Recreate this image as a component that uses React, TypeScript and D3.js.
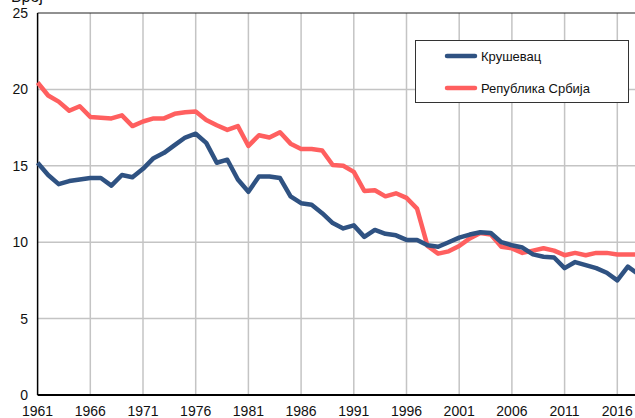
import React, { useEffect, useRef } from 'react';
import * as d3 from 'd3';

// години 1961–2018
const years: number[] = d3.range(1961, 2019);
const xTicks = [1961, 1966, 1971, 1976, 1981, 1986, 1991, 1996, 2001, 2006, 2011, 2016];
const yTicks = [0, 5, 10, 15, 20, 25];

const krusevac = [
  15.2, 14.4, 13.8, 14.0, 14.1, 14.2, 14.2, 13.7, 14.4, 14.25,
  14.8, 15.5, 15.85, 16.35, 16.85, 17.1, 16.5, 15.2, 15.4, 14.1,
  13.3, 14.3, 14.3, 14.2, 13.0, 12.55, 12.45, 11.9, 11.25, 10.9,
  11.1, 10.35, 10.8, 10.55, 10.45, 10.15, 10.15, 9.8, 9.7, 10.0,
  10.3, 10.5, 10.65, 10.6, 10.0, 9.8, 9.65, 9.2, 9.05, 9.0,
  8.3, 8.7, 8.5, 8.3, 8.0, 7.5, 8.4, 7.9,
];

const srbija = [
  20.45, 19.6, 19.2, 18.6, 18.9, 18.2, 18.15, 18.1, 18.3, 17.6,
  17.9, 18.1, 18.1, 18.4, 18.5, 18.55, 18.0, 17.65, 17.35, 17.6,
  16.3, 17.0, 16.85, 17.2, 16.45, 16.1, 16.1, 16.0, 15.05, 15.0,
  14.6, 13.35, 13.4, 13.0, 13.2, 12.9, 12.2, 9.75, 9.25, 9.4,
  9.75, 10.25, 10.6, 10.5, 9.7, 9.6, 9.3, 9.45, 9.6, 9.45,
  9.15, 9.3, 9.15, 9.3, 9.3, 9.2, 9.2, 9.2,
];

const seriesNames = ['Крушевац', 'Република Србија'];
const colors = ['#2f5282', '#ff5f5f'];

const App = () => {
  const ref = useRef<SVGSVGElement>(null);

  useEffect(() => {
    if (!ref.current) return;
    const svg = d3.select(ref.current);
    svg.selectAll('*').remove();

    const left = 37.6;
    const step = 10.54;
    const x = d3.scaleLinear()
      .domain([1961, 2018])
      .range([left, left + 57 * step]);
    const y = d3.scaleLinear().domain([0, 25]).range([395, 13]);
    const font = 'Liberation Sans, Arial, sans-serif';

    // мрежа
    svg.append('g')
      .selectAll('line')
      .data(xTicks.slice(1))
      .join('line')
      .attr('x1', d => x(d)).attr('x2', d => x(d))
      .attr('y1', y(25)).attr('y2', y(0))
      .attr('stroke', '#c4c4c4').attr('stroke-width', 1.5);

    svg.append('g')
      .selectAll('line')
      .data(yTicks.slice(1, -1))
      .join('line')
      .attr('x1', left).attr('x2', 635)
      .attr('y1', d => y(d)).attr('y2', d => y(d))
      .attr('stroke', '#c4c4c4').attr('stroke-width', 1.5);

    // оквир и осе
    svg.append('line')
      .attr('x1', left).attr('x2', 635)
      .attr('y1', y(25)).attr('y2', y(25))
      .attr('stroke', '#222').attr('stroke-width', 1);
    svg.append('line')
      .attr('x1', left).attr('x2', left)
      .attr('y1', y(25)).attr('y2', y(0))
      .attr('stroke', '#000').attr('stroke-width', 1.5);
    svg.append('line')
      .attr('x1', left).attr('x2', 635)
      .attr('y1', y(0)).attr('y2', y(0))
      .attr('stroke', '#000').attr('stroke-width', 2);

    svg.append('g')
      .selectAll('text')
      .data(yTicks)
      .join('text')
      .attr('x', 28)
      .attr('y', d => y(d) + 5)
      .attr('text-anchor', 'end')
      .style('font-family', font)
      .style('font-size', '14px')
      .attr('fill', '#111')
      .text(d => d);

    svg.append('g')
      .selectAll('text')
      .data(xTicks)
      .join('text')
      .attr('x', d => x(d))
      .attr('y', 416)
      .attr('text-anchor', 'middle')
      .style('font-family', font)
      .style('font-size', '14px')
      .attr('fill', '#111')
      .text(d => d);

    // наслов осе (одсечен на врху, као у оригиналу)
    svg.append('text')
      .attr('x', 11)
      .attr('y', 2)
      .style('font-family', font)
      .style('font-size', '16px')
      .attr('fill', '#111')
      .text('Број');

    // линије
    const line = d3.line<number>()
      .x((d, i) => x(years[i]))
      .y(d => y(d));

    [srbija, krusevac].forEach((s, k) => {
      svg.append('path')
        .datum(s)
        .attr('fill', 'none')
        .attr('stroke', colors[1 - k])
        .attr('stroke-width', 4.5)
        .attr('stroke-linejoin', 'round')
        .attr('d', line);
    });

    // легенда
    const lg = svg.append('g');
    lg.append('rect')
      .attr('x', 415.5).attr('y', 40.5)
      .attr('width', 213).attr('height', 62)
      .attr('fill', '#fff')
      .attr('stroke', '#333').attr('stroke-width', 1);
    seriesNames.forEach((name, i) => {
      const ly = 56 + i * 32;
      lg.append('line')
        .attr('x1', 447).attr('x2', 475)
        .attr('y1', ly).attr('y2', ly)
        .attr('stroke', colors[i])
        .attr('stroke-width', 4.5)
        .attr('stroke-linecap', 'round');
      lg.append('text')
        .attr('x', 481)
        .attr('y', ly + 5)
        .style('font-family', font)
        .style('font-size', '13px')
        .attr('fill', '#111')
        .text(name);
    });
  }, []);

  return (
    <svg
      ref={ref}
      width={635}
      height={418}
      style={{ position: 'absolute', left: 0, top: 0, background: '#fff' }}
    />
  );
};

export default App;
